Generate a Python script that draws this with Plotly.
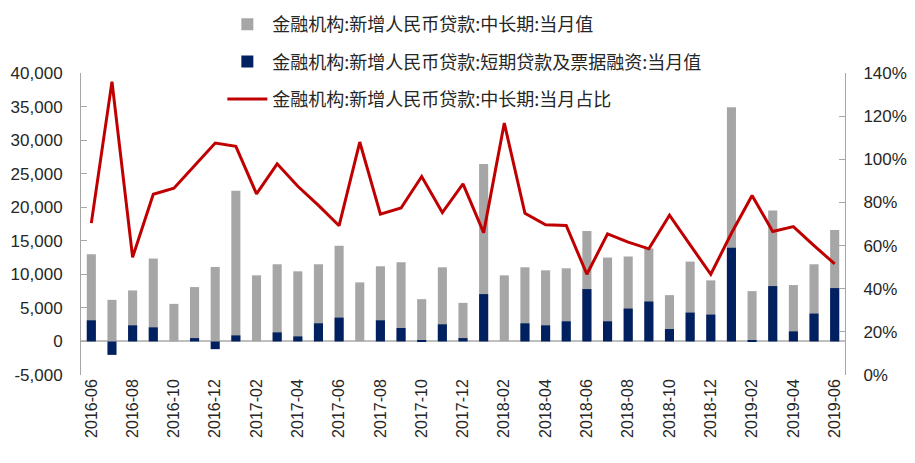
import plotly.graph_objects as go

months = ["2016-06","2016-07","2016-08","2016-09","2016-10","2016-11","2016-12",
          "2017-01","2017-02","2017-03","2017-04","2017-05","2017-06","2017-07",
          "2017-08","2017-09","2017-10","2017-11","2017-12","2018-01","2018-02",
          "2018-03","2018-04","2018-05","2018-06","2018-07","2018-08","2018-09",
          "2018-10","2018-11","2018-12","2019-01","2019-02","2019-03","2019-04",
          "2019-05","2019-06"]

mid_long = [13000, 6200, 7600, 12350, 5600, 8100, 11100, 22450, 9850, 11500, 10450,
            11500, 14250, 8800, 11200, 11800, 6300, 11050, 5750, 26450, 9850, 11050,
            10600, 10900, 16450, 12500, 12650, 13850, 6900, 11900, 9100, 34900, 7500,
            19500, 8400, 11500, 16600]

short_bill = [3150, -2000, 2400, 2100, 0, 500, -1150, 900, 0, 1350, 750, 2700, 3550,
              0, 3150, 2000, 150, 2550, 500, 7050, 0, 2700, 2400, 3000, 7800, 3000,
              4900, 5950, 1850, 4300, 4000, 13950, 150, 8250, 1500, 4150, 7950]

ratio = [0.704, 1.36, 0.546, 0.838, 0.866, 0.97, 1.075, 1.06, 0.84, 0.979, 0.875,
         0.786, 0.692, 1.08, 0.746, 0.774, 0.92, 0.753, 0.886, 0.66, 1.168, 0.75,
         0.696, 0.693, 0.467, 0.654, 0.616, 0.585, 0.741, 0.603, 0.467, 0.657,
         0.832, 0.665, 0.688, 0.60, 0.515]

names = ["金融机构:新增人民币贷款:中长期:当月值",
         "金融机构:新增人民币贷款:短期贷款及票据融资:当月值",
         "金融机构:新增人民币贷款:中长期:当月占比"]

tick_months = months[::2]
left_vals = [-5000, 0, 5000, 10000, 15000, 20000, 25000, 30000, 35000, 40000]
left_text = ["-5,000", "0", "5,000", "10,000", "15,000", "20,000", "25,000",
             "30,000", "35,000", "40,000"]

fig = go.Figure()
fig.add_trace(go.Bar(x=months, y=mid_long, name=names[0], marker_color="#A6A6A6",
                     marker_line_width=0, legendgroup="a"))
fig.add_trace(go.Bar(x=months, y=short_bill, name=names[1], marker_color="#002060",
                     marker_line_width=0, legendgroup="b"))
fig.add_trace(go.Scatter(x=months, y=ratio, name=names[2], mode="lines",
                         line=dict(color="#C00000", width=3), yaxis="y2",
                         legendgroup="c"))

tickfont = dict(family="Liberation Sans, Arial, sans-serif", size=17, color="#262626")
xtickfont = dict(family="Liberation Sans, Arial, sans-serif", size=16, color="#262626")

fig.update_layout(
    width=915, height=463,
    margin=dict(l=81, r=70, t=73, b=88, autoexpand=False),
    paper_bgcolor="white", plot_bgcolor="white",
    barmode="overlay", bargap=0.56,
    showlegend=True,
    legend=dict(x=0.185, y=1.222, xanchor="left", yanchor="top",
                orientation="v", bgcolor="rgba(0,0,0,0)",
                font=dict(family="Noto Sans CJK SC, sans-serif", size=18, color="#262626"),
                tracegroupgap=11, itemwidth=40),
    xaxis=dict(type="category", tickmode="array", tickvals=tick_months,
               ticktext=tick_months, tickangle=-90, tickfont=xtickfont,
               showgrid=False, showline=False, ticks="", range=[-0.5, 36.5]),
    yaxis=dict(range=[-5000, 40000], tickmode="array", tickvals=left_vals,
               ticktext=left_text, tickfont=tickfont, ticklabelstandoff=14,
               showgrid=False, showline=True, linecolor="#A6A6A6", linewidth=1,
               ticks="inside", ticklen=6, tickcolor="#A6A6A6",
               zeroline=True, zerolinecolor="#BFBFBF", zerolinewidth=1.5),
    yaxis2=dict(range=[0, 1.4], dtick=0.2, tickformat=".0%", tickfont=tickfont,
                ticklabelstandoff=14,
                overlaying="y", side="right", showgrid=False, showline=True,
                linecolor="#A6A6A6", linewidth=1, ticks="inside", ticklen=6,
                tickcolor="#A6A6A6", zeroline=False),
)

fig.write_html("out.html")
